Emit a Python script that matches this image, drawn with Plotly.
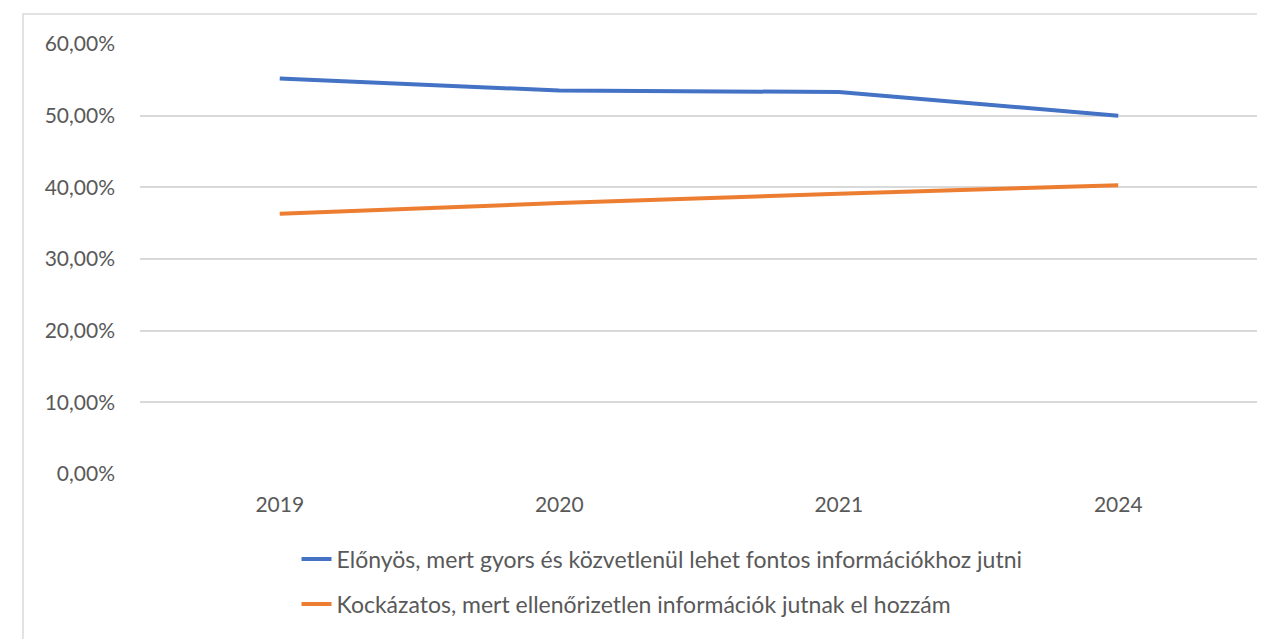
import plotly.graph_objects as go

years = ["2019", "2020", "2021", "2024"]
elonyos = [0.552, 0.535, 0.533, 0.500]
kockazatos = [0.363, 0.378, 0.391, 0.403]
name_elonyos = "Előnyös, mert gyors és közvetlenül lehet fontos információkhoz jutni"
name_kockazatos = "Kockázatos, mert ellenőrizetlen információk jutnak el hozzám"
y_ticks = [0, 0.1, 0.2, 0.3, 0.4, 0.5, 0.6]

FONT = "Lato, 'Open Sans', sans-serif"
GRAY = "#595959"

fig = go.Figure()
fig.add_trace(go.Scatter(x=years, y=elonyos, mode="lines", name=name_elonyos,
                         line=dict(color="#4472C4", width=4), legendgroup="a"))
fig.add_trace(go.Scatter(x=years, y=kockazatos, mode="lines", name=name_kockazatos,
                         line=dict(color="#ED7D31", width=4), legendgroup="b"))

fig.update_layout(
    width=1257, height=631,
    margin=dict(l=132, r=7, t=36, b=165),
    paper_bgcolor="white", plot_bgcolor="white",
    separators=", ",
    font=dict(family=FONT, size=21, color=GRAY),
    showlegend=True,
    legend=dict(orientation="v", x=0.140, xanchor="left", y=-0.148, yanchor="top",
                tracegroupgap=12, font=dict(size=23, color=GRAY),
                bgcolor="rgba(0,0,0,0)"),
    xaxis=dict(type="category", range=[-0.5, 3.5], showgrid=False, zeroline=False,
               showline=False, ticks="", tickfont=dict(size=21, color=GRAY),
               ticklabelstandoff=16),
    yaxis=dict(range=[0, 0.6], tickvals=y_ticks, tickformat=".2%", showgrid=True,
               gridcolor="#d9d9d9", gridwidth=1.5, zeroline=False, showline=False,
               ticks="", tickfont=dict(size=21, color=GRAY), ticklabelstandoff=24),
    shapes=[dict(type="rect", xref="paper", yref="paper", x0=-0.1047, x1=1.05,
                 y0=-0.45, y1=1.0698, line=dict(color="#d9d9d9", width=1.5),
                 fillcolor="rgba(0,0,0,0)", layer="below")],
)

fig.write_html("out.html")
